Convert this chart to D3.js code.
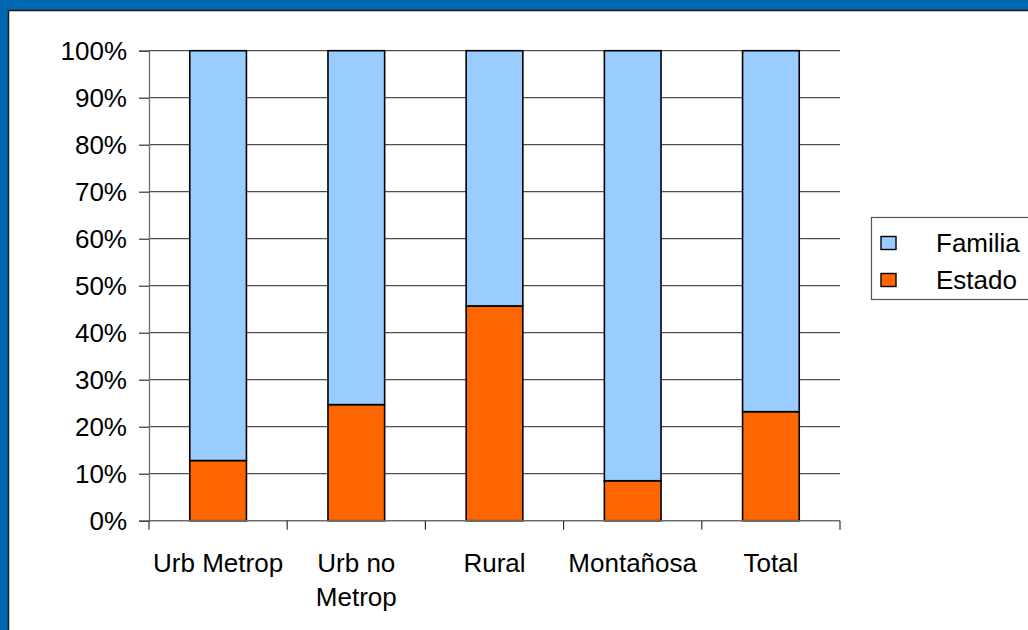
<!DOCTYPE html>
<html>
<head>
<meta charset="utf-8">
<script src="https://cdn.jsdelivr.net/npm/d3@7"></script>
<style>
  html, body { margin: 0; padding: 0; background: #ffffff; }
  svg { display: block; }
  text { font-family: "Liberation Sans", Arial, sans-serif; fill: #000; }
</style>
</head>
<body>
<svg id="chart" width="1028" height="630"></svg>
<script>
// Share of funding by area type (stacked to 100%)
const categories = ["Urb Metrop", "Urb no Metrop", "Rural", "Montañosa", "Total"];
const estado  = [12.8, 24.7, 45.7, 8.5, 23.2];
const familia = estado.map(v => 100 - v);
const seriesNames = ["Familia", "Estado"];
const seriesColors = ["#99ccff", "#ff6600"];
const yTicks = [0, 10, 20, 30, 40, 50, 60, 70, 80, 90, 100];

const svg = d3.select("#chart");
const W = 1028, H = 630;
const fontSize = "26px";

// Frame: white canvas with a blue strip along the top and left edges
svg.append("rect").attr("x", 0).attr("y", 0).attr("width", W).attr("height", H).attr("fill", "#ffffff");
svg.append("rect").attr("x", 0).attr("y", 0).attr("width", W).attr("height", 10).attr("fill", "#0066b0");
svg.append("rect").attr("x", 0).attr("y", 0).attr("width", 8).attr("height", H).attr("fill", "#0066b0");
svg.append("path").attr("d", `M8.5,${H} V10.5 H${W}`).attr("fill", "none").attr("stroke", "#1a1a1a").attr("stroke-width", 1.5);

const plot = { left: 149, right: 840, top: 50.7, bottom: 520.7 };

const x = d3.scaleBand()
  .domain(categories)
  .range([plot.left, plot.right])
  .paddingInner(0.59)
  .paddingOuter(0.295);

const y = d3.scaleLinear()
  .domain([0, 100])
  .range([plot.bottom, plot.top]);

// Horizontal gridlines
svg.append("g").selectAll("line")
  .data(yTicks)
  .join("line")
  .attr("x1", plot.left).attr("x2", plot.right)
  .attr("y1", d => y(d)).attr("y2", d => y(d))
  .attr("stroke", "#505050").attr("stroke-width", 1.3);

// Y axis
const yAxis = svg.append("g")
  .attr("transform", `translate(${plot.left},0)`)
  .call(d3.axisLeft(y).tickValues(yTicks).tickSize(10).tickPadding(12).tickFormat(d => d + "%"));
yAxis.select(".domain").attr("stroke", "#6a6a6a").attr("stroke-width", 1.3);
yAxis.selectAll(".tick line").attr("stroke", "#333").attr("stroke-width", 1.2);
yAxis.selectAll(".tick text")
  .style("font-family", '"Liberation Sans", Arial, sans-serif')
  .style("font-size", fontSize)
  .attr("fill", "#000");

// Stacked bars
const rows = categories.map((c, i) => ({ cat: c, Estado: estado[i], Familia: familia[i] }));
const stack = d3.stack().keys(["Estado", "Familia"])(rows);
const colorOf = { Estado: seriesColors[1], Familia: seriesColors[0] };

svg.append("g").selectAll("g")
  .data(stack)
  .join("g")
  .attr("fill", d => colorOf[d.key])
  .selectAll("rect")
  .data(d => d)
  .join("rect")
  .attr("x", d => x(d.data.cat))
  .attr("width", x.bandwidth())
  .attr("y", d => y(d[1]))
  .attr("height", d => y(d[0]) - y(d[1]))
  .attr("stroke", "#000")
  .attr("stroke-width", 1.6);

// X axis baseline and category separators
svg.append("line")
  .attr("x1", plot.left).attr("x2", plot.right)
  .attr("y1", plot.bottom).attr("y2", plot.bottom)
  .attr("stroke", "#6a6a6a").attr("stroke-width", 1.3);
const bounds = d3.range(categories.length + 1).map(i => plot.left + i * x.step());
svg.append("g").selectAll("line")
  .data(bounds)
  .join("line")
  .attr("x1", d => d).attr("x2", d => d)
  .attr("y1", plot.bottom).attr("y2", plot.bottom + 9)
  .attr("stroke", "#333").attr("stroke-width", 1.2);

// Category labels (wrapped where needed)
const catLines = { "Urb no Metrop": ["Urb no", "Metrop"] };
svg.append("g").selectAll("text")
  .data(categories)
  .join("text")
  .attr("x", d => x(d) + x.bandwidth() / 2)
  .attr("y", 572)
  .attr("text-anchor", "middle")
  .style("font-size", fontSize)
  .each(function (d) {
    const lines = catLines[d] || [d];
    d3.select(this).selectAll("tspan")
      .data(lines)
      .join("tspan")
      .attr("x", x(d) + x.bandwidth() / 2)
      .attr("dy", (l, i) => i === 0 ? 0 : 34)
      .text(l => l);
  });

// Legend
const legend = svg.append("g");
legend.append("rect")
  .attr("x", 871.5).attr("y", 217.5).attr("width", 170).attr("height", 82)
  .attr("fill", "#fff").attr("stroke", "#555").attr("stroke-width", 1.2);
const legendY = [243, 280];
seriesNames.forEach((name, i) => {
  legend.append("rect")
    .attr("x", 881).attr("y", legendY[i] - 6.5).attr("width", 15).attr("height", 13)
    .attr("fill", seriesColors[i]).attr("stroke", "#000").attr("stroke-width", 1.4);
  legend.append("text")
    .attr("x", 936).attr("y", legendY[i] + 9)
    .style("font-size", fontSize)
    .text(name);
});
</script>
</body>
</html>
